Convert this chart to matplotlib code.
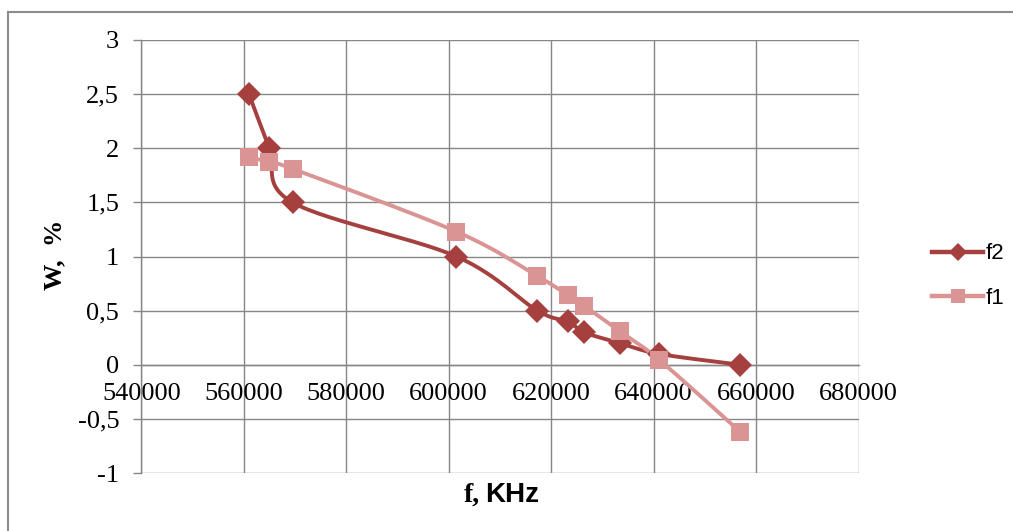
import numpy as np
import matplotlib
matplotlib.use("Agg")
import matplotlib.pyplot as plt
from matplotlib.lines import Line2D

# ---- data ----
freq = [561000, 565000, 569500, 601500, 617300, 623300, 626400, 633400, 641100, 656900]
f2 = [2.5, 2.0, 1.5, 1.0, 0.5, 0.4, 0.3, 0.2, 0.1, 0.0]
f1 = [1.92, 1.87, 1.81, 1.23, 0.82, 0.64, 0.545, 0.31, 0.045, -0.62]
xticks = [540000, 560000, 580000, 600000, 620000, 640000, 660000, 680000]
yticks = [-1, -0.5, 0, 0.5, 1, 1.5, 2, 2.5, 3]
ylabels = ["-1", "-0,5", "0", "0,5", "1", "1,5", "2", "2,5", "3"]
series_names = ["f2", "f1"]
c_f2 = "#A5403F"
c_f1 = "#D99493"

W, H = 1013, 531
fig = plt.figure(figsize=(W / 100, H / 100), dpi=100)
ax = fig.add_axes([141.4 / W, 1 - 473 / H, (858.5 - 141.4) / W, (473 - 40) / H])
ax.set_xlim(540000, 680000)
ax.set_ylim(-1, 3)

grid_c = "#868686"
ax.set_xticks(xticks)
ax.set_yticks(yticks)
ax.set_yticklabels(ylabels)
ax.grid(True, color=grid_c, linewidth=1.0)
ax.set_axisbelow(True)
for s in ["top", "right"]:
    ax.spines[s].set_visible(False)
ax.spines["left"].set_color(grid_c)
ax.spines["left"].set_linewidth(1.0)
ax.spines["bottom"].set_position(("data", 0))
ax.spines["bottom"].set_color(grid_c)
ax.spines["bottom"].set_linewidth(1.0)
serif = "Liberation Serif"
ax.tick_params(axis="y", length=6, width=1.0, color=grid_c, pad=10,
               labelsize=19, labelfontfamily=serif)
ax.tick_params(axis="x", length=0, pad=13, labelsize=19, labelfontfamily=serif)

fig.canvas.draw()


def smooth(xs, ys, n=30):
    pts = ax.transData.transform(np.column_stack([xs, ys]))
    P = np.vstack([pts[0], pts, pts[-1]])
    out = []
    for i in range(1, len(P) - 2):
        p0, p1, p2, p3 = P[i - 1], P[i], P[i + 1], P[i + 2]
        c1 = p1 + (p2 - p0) / 6.0
        c2 = p2 - (p3 - p1) / 6.0
        t = np.linspace(0, 1, n)[:, None]
        seg = ((1 - t) ** 3) * p1 + 3 * ((1 - t) ** 2) * t * c1 + 3 * (1 - t) * t ** 2 * c2 + t ** 3 * p2
        out.append(seg if i == 1 else seg[1:])
    out = np.vstack(out)
    return ax.transData.inverted().transform(out)


for ys, col, mk, ms in [(f2, c_f2, "D", 12.5), (f1, c_f1, "s", 13)]:
    cur = smooth(freq, ys)
    ax.plot(cur[:, 0], cur[:, 1], color=col, linewidth=2.8, solid_capstyle="round", zorder=3)
    ax.plot(freq, ys, linestyle="none", marker=mk, markersize=ms, color=col,
            markeredgewidth=0, zorder=4)

handles = [Line2D([], [], color=c_f2, linewidth=3.2, marker="D", markersize=9, markeredgewidth=0),
           Line2D([], [], color=c_f1, linewidth=3.2, marker="s", markersize=10.5, markeredgewidth=0)]
fig.legend(handles, series_names, loc="center left", bbox_to_anchor=(912 / W, 1 - 276 / H),
           frameon=False, prop={"family": "Liberation Sans", "size": 16},
           handlelength=2.3, handletextpad=0.1, labelspacing=1.05)

# axis titles
fig.text(55 / W, 1 - 255 / H, "W,  %", rotation=90, ha="center", va="center",
         fontsize=19, fontweight="bold", family=serif)
fig.text(480 / W, 1 - 495 / H, "f,", ha="right", va="center", fontsize=20,
         fontweight="bold", family=serif)
fig.text(485 / W, 1 - 495 / H, "KHz", ha="left", va="center", fontsize=20,
         fontweight="bold", family="Liberation Sans")

# outer chart border
fig.add_artist(Line2D([8 / W, 8 / W], [0, 1 - 12 / H], transform=fig.transFigure,
                      color="#8C8C8C", linewidth=1.5))
fig.add_artist(Line2D([8 / W, 1], [1 - 12 / H, 1 - 12 / H], transform=fig.transFigure,
                      color="#8C8C8C", linewidth=1.5))

fig.savefig("out.png", dpi=100)
